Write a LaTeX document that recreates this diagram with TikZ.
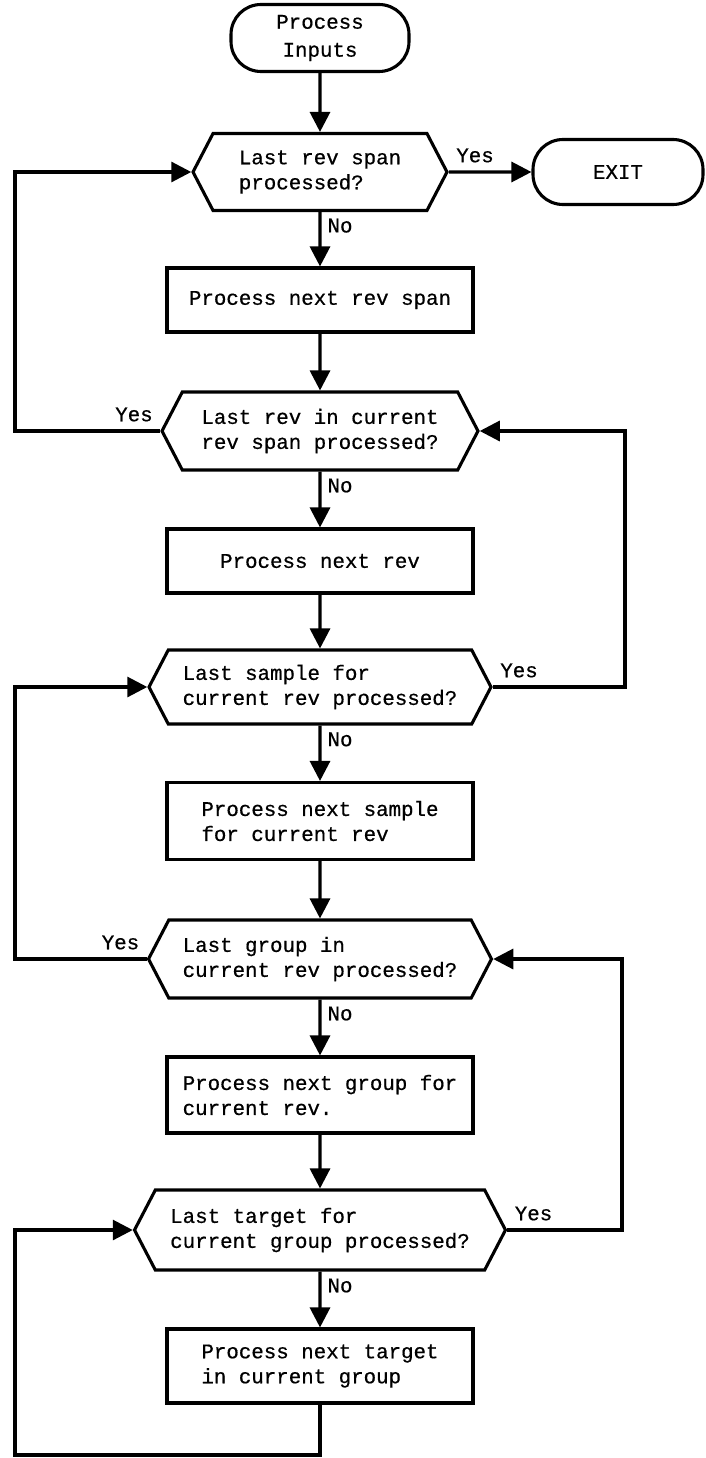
\documentclass[tikz,border=0pt]{standalone}
\usepackage{fontspec}
\setmonofont{Liberation Mono}[FakeBold=0.6]
\usetikzlibrary{arrows.meta,shapes.symbols}
\tikzset{proc/.style={draw, line width=3.1pt, inner sep=0pt, align=left, minimum width=306pt},
         term/.style={draw, line width=3.1pt, rounded corners=30pt, inner sep=0pt, align=center},
         dec/.style={draw, line width=3.1pt, signal, signal to=east and west, signal pointer angle=125, inner sep=0pt, align=left},
         lbl/.style={inner sep=6pt},
         arr/.style={-{Triangle[length=20pt,width=20pt]}, line width=3.1pt}}

\begin{document}
\begin{tikzpicture}[x=1pt,y=1pt, font=\fontsize{20.8}{25}\selectfont\ttfamily]
\useasboundingbox (0,0) rectangle (706,-1458);
% main column
\node[term, minimum width=178pt, minimum height=67pt] (start) at (320,-38) {Process\\[3pt]Inputs};
\node[dec, minimum width=254pt, minimum height=77pt] (d1) at (320,-172) {Last rev span\\processed?};
\node[term, minimum width=170pt, minimum height=65pt] (exit) at (618,-172) {EXIT};
\node[proc, minimum height=64pt] (b1) at (320,-300) {Process next rev span};
\node[dec, minimum width=316pt, minimum height=78pt] (d2) at (320,-431) {Last rev in current\\rev span processed?};
\node[proc, minimum height=64pt] (b2) at (320,-561) {Process next rev};
\node[dec, minimum width=342pt, minimum height=74pt] (d3) at (320,-687) {Last sample for\\current rev processed?};
\node[proc, minimum height=77pt] (b3) at (320,-821) {Process next sample\\for current rev};
\node[dec, minimum width=343pt, minimum height=78pt] (d4) at (320,-959) {Last group in\\current rev processed?};
\node[proc, minimum height=76pt] (b4) at (320,-1095) {Process next group for\\current rev.};
\node[dec, minimum width=371pt, minimum height=80pt] (d5) at (320,-1230) {Last target for\\current group processed?};
\node[proc, minimum height=74pt] (b5) at (320,-1366) {Process next target\\in current group};
% rails for the loops
\coordinate (railL) at (15,0);
\coordinate (railR1) at (625,0);
\coordinate (railR2) at (622,0);
\coordinate (railB) at (0,-1455);
% flow down
\draw[arr] (start) -- (d1);
\draw[arr] (d1) -- node[lbl, above right, pos=0, yshift=2pt] {Yes} (exit);
\draw[arr] (d1) -- node[lbl, right, near start] {No} (b1);
\draw[arr] (b1) -- (d2);
\draw[arr] (d2) -- node[lbl, right, near start] {No} (b2);
\draw[arr] (b2) -- (d3);
\draw[arr] (d3) -- node[lbl, right, near start] {No} (b3);
\draw[arr] (b3) -- (d4);
\draw[arr] (d4) -- node[lbl, right, near start] {No} (b4);
\draw[arr] (b4) -- (d5);
\draw[arr] (d5) -- node[lbl, right, near start] {No} (b5);
% loops back
\draw[arr] (d2.west) -- node[lbl, above left, pos=0, yshift=2pt] {Yes} (d2.west -| railL) |- (d1.west);
\draw[arr] (d3.east) -- node[lbl, above right, pos=0, yshift=2pt] {Yes} (d3.east -| railR1) |- (d2.east);
\draw[arr] (d4.west) -- node[lbl, above left, pos=0, yshift=2pt] {Yes} (d4.west -| railL) |- (d3.west);
\draw[arr] (d5.east) -- node[lbl, above right, pos=0, yshift=2pt] {Yes} (d5.east -| railR2) |- (d4.east);
\draw[arr] (b5.south) -- (b5.south |- railB) -- (railL |- railB) |- (d5.west);
\end{tikzpicture}
\end{document}
